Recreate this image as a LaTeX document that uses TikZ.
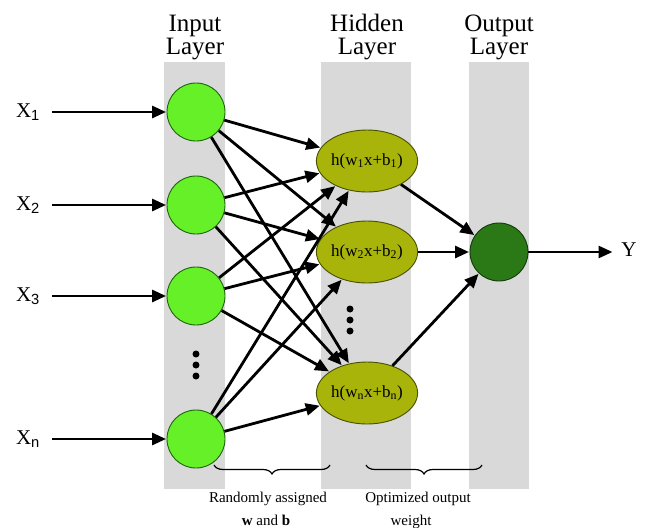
\documentclass[tikz,border=0pt]{standalone}
\usepackage{fontspec}
\setmainfont{Liberation Serif}
\setsansfont{Liberation Sans}
\newfontfamily\tms{Liberation Serif}
\usetikzlibrary{arrows.meta,decorations.pathreplacing,shapes.geometric}
\definecolor{colgray}{RGB}{217,217,217}
\definecolor{ingreen}{RGB}{102,240,40}
\definecolor{inedge}{RGB}{30,100,15}
\definecolor{hidfill}{RGB}{168,180,10}
\definecolor{hidedge}{RGB}{70,80,0}
\definecolor{outfill}{RGB}{42,120,22}
\definecolor{outedge}{RGB}{20,60,10}
\tikzset{
  colband/.style={fill=colgray,draw=none},
  innode/.style={circle,fill=ingreen,draw=inedge,line width=0.9pt,minimum size=58pt,inner sep=0pt},
  hidnode/.style={ellipse,fill=hidfill,draw=hidedge,line width=0.9pt,minimum width=90pt,minimum height=62pt,inner sep=0pt,font=\tms\fontsize{17}{19}\selectfont},
  outnode/.style={circle,fill=outfill,draw=outedge,line width=0.9pt,minimum size=58pt,inner sep=0pt},
  conn/.style={line width=2.8pt,-{Triangle[length=14pt,width=12pt]},shorten >=0.5pt},
  toplabel/.style={anchor=base,font=\tms\fontsize{25}{25}\selectfont,inner sep=0pt,text depth=3pt},
  xlabel/.style={font=\tms\fontsize{21}{24}\selectfont,inner sep=0pt},
  botlabel/.style={anchor=base,font=\tms\fontsize{15}{18}\selectfont,inner sep=0pt},
  dot/.style={circle,fill=black,inner sep=0pt,minimum size=7pt},
  bracedraw/.style={line width=1.2pt,decorate,decoration={brace,mirror,amplitude=9pt}}
}
\begin{document}
\begin{tikzpicture}[x=1pt,y=-1pt]
\useasboundingbox (0,0) rectangle (646,528);
% column bands
\fill[colband] (164,62) rectangle (225,489);
\fill[colband] (321,62) rectangle (411,489);
\fill[colband] (469,62) rectangle (529,489);
% top labels
\node[toplabel] (tin1) at (195,31) {Input};
\node[toplabel] (tin2) at (195,54) {Layer};
\node[toplabel] (thid1) at (367,31) {Hidden};
\node[toplabel] (thid2) at (367,54) {Layer};
\node[toplabel] (tout1) at (499,31) {Output};
\node[toplabel] (tout2) at (499,54) {Layer};
% input nodes
\node[innode] (i1) at (196,112) {};
\node[innode] (i2) at (196,205) {};
\node[innode] (i3) at (196,296) {};
\node[innode] (in) at (196,439) {};
% hidden nodes
\node[hidnode] (h1) at (367,161) {h(w\textsubscript{1}x+b\textsubscript{1})};
\node[hidnode] (h2) at (367,252) {h(w\textsubscript{2}x+b\textsubscript{2})};
\node[hidnode] (hn) at (367,393) {h(w\textsubscript{n}x+b\textsubscript{n})};
% output node
\node[outnode] (o) at (499,252) {};
% dots
\node[dot] (d1) at (196,354) {};
\node[dot] (d2) at (196,365) {};
\node[dot] (d3) at (196,376) {};
\node[dot] (e1) at (350,309) {};
\node[dot] (e2) at (350,320) {};
\node[dot] (e3) at (350,331) {};
% input labels and arrows
\node[xlabel] (x1) at (28,112) {X\textsubscript{\sffamily 1}};
\node[xlabel] (x2) at (28,205) {X\textsubscript{\sffamily 2}};
\node[xlabel] (x3) at (28,296) {X\textsubscript{\sffamily 3}};
\node[xlabel] (xn) at (28,439) {X\textsubscript{\sffamily n}};
\coordinate (s1) at (52,112);
\coordinate (s2) at (52,205);
\coordinate (s3) at (52,296);
\coordinate (sn) at (52,439);
\draw[conn] (s1) -- (i1);
\draw[conn] (s2) -- (i2);
\draw[conn] (s3) -- (i3);
\draw[conn] (sn) -- (in);
% input to hidden
\foreach \a in {i1,i2,i3,in}{
  \foreach \b in {h1,h2,hn}{
    \draw[conn] (\a) -- (\b);
  }
}
% hidden to output
\draw[conn] (h1) -- (o);
\draw[conn] (h2) -- (o);
\draw[conn] (hn) -- (o);
% output arrow
\coordinate (ye) at (613,252);
\draw[conn] (o) -- (ye);
\node[xlabel] (y) at (629,250) {Y};
% braces
\coordinate (b1a) at (214,465);
\coordinate (b1b) at (330,465);
\coordinate (b2a) at (366,465);
\coordinate (b2b) at (482,465);
\draw[bracedraw] (b1a) -- (b1b);
\draw[bracedraw] (b2a) -- (b2b);
\node[botlabel] (l1) at (268,502) {Randomly assigned};
\node[botlabel] (l1b) at (266,525) {\textbf{w} and \textbf{b}};
\node[botlabel] (l2) at (418,502) {Optimized output};
\node[botlabel] (l2b) at (411,525) {weight};
\end{tikzpicture}
\end{document}
